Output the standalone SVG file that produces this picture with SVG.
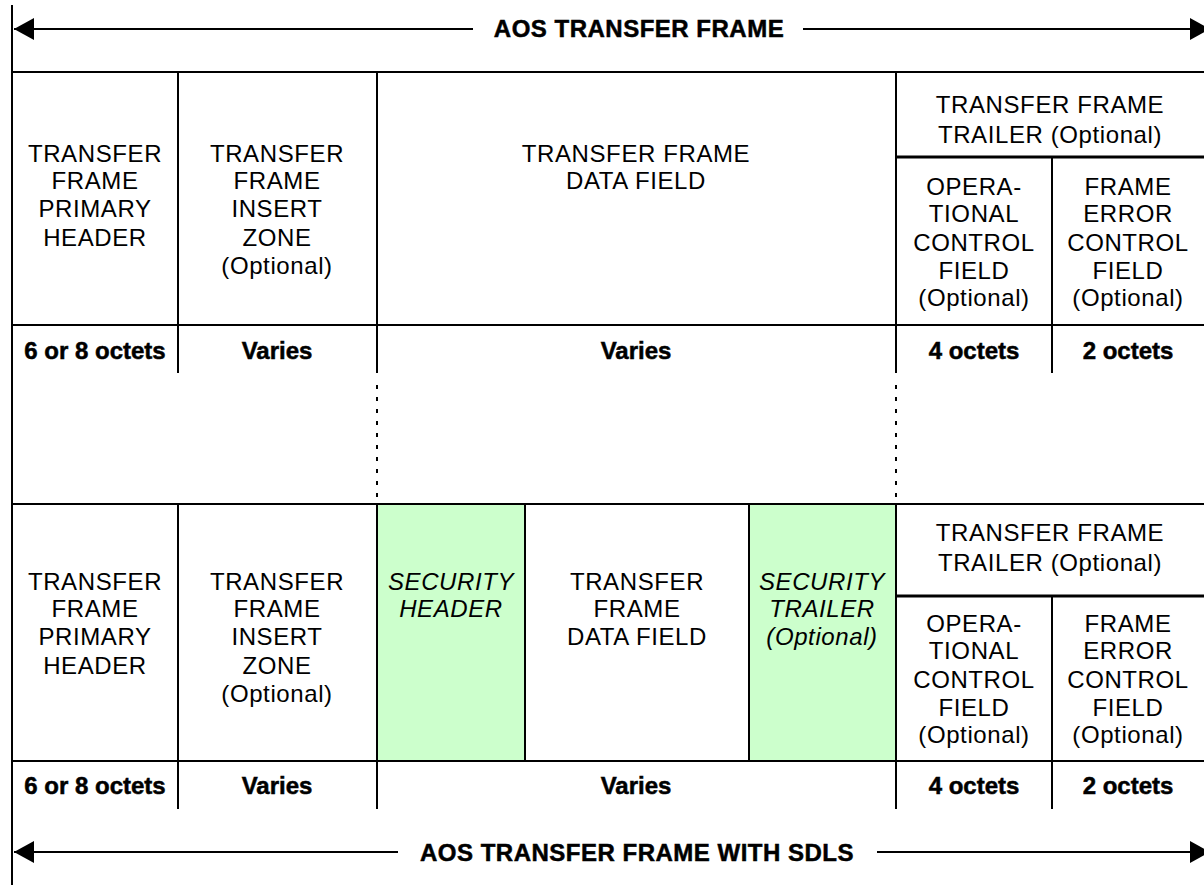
<svg xmlns="http://www.w3.org/2000/svg" width="1204" height="885" viewBox="0 0 1204 885">
<defs>
<style>
.ln{stroke:#000;stroke-width:2;fill:none}
.thk{stroke:#000;stroke-width:3;fill:none}
.dot{stroke:#000;stroke-width:2;stroke-dasharray:4 8;fill:none}
.t{font-family:"Liberation Sans",Arial,sans-serif;font-size:24px;letter-spacing:0.6px;text-anchor:middle;fill:#000}
.it{font-style:italic}
.b{font-weight:bold;letter-spacing:0;stroke:#000;stroke-width:0.5}
.ttl{letter-spacing:0.5px}
.sec{fill:#CCFFCC}
</style>
<marker id="ah" viewBox="0 0 20 22" refX="20" refY="11" markerWidth="20" markerHeight="22" markerUnits="userSpaceOnUse" orient="auto-start-reverse">
<path d="M0,0 L20,11 L0,22 z" fill="#000"/>
</marker>
</defs>
<rect width="1204" height="885" fill="#fff"/>

<g id="frame-lines">
<line class="ln" x1="12" y1="5" x2="12" y2="885"/>
<line class="ln" x1="12" y1="72" x2="1204" y2="72"/>
<line class="ln" x1="12" y1="325" x2="1204" y2="325"/>
<line class="ln" x1="178" y1="72" x2="178" y2="373"/>
<line class="ln" x1="377" y1="72" x2="377" y2="373"/>
<line class="ln" x1="896" y1="72" x2="896" y2="373"/>
<line class="thk" x1="896" y1="157" x2="1204" y2="157"/>
<line class="ln" x1="1052" y1="157" x2="1052" y2="373"/>
</g>

<g id="sdls-lines">
<rect class="sec" x="377" y="504" width="148" height="257"/>
<rect class="sec" x="749" y="504" width="147" height="257"/>
<line class="ln" x1="12" y1="504" x2="1204" y2="504"/>
<line class="ln" x1="12" y1="761" x2="1204" y2="761"/>
<line class="ln" x1="178" y1="504" x2="178" y2="809"/>
<line class="ln" x1="377" y1="504" x2="377" y2="809"/>
<line class="ln" x1="525" y1="504" x2="525" y2="761"/>
<line class="ln" x1="749" y1="504" x2="749" y2="761"/>
<line class="ln" x1="896" y1="504" x2="896" y2="809"/>
<line class="thk" x1="896" y1="596" x2="1204" y2="596"/>
<line class="ln" x1="1052" y1="596" x2="1052" y2="809"/>
</g>

<g id="connectors">
<line class="ln" x1="14" y1="29" x2="473" y2="29" marker-start="url(#ah)"/>
<line class="ln" x1="803" y1="29" x2="1210" y2="29" marker-end="url(#ah)"/>
<line class="ln" x1="14" y1="852" x2="398" y2="852" marker-start="url(#ah)"/>
<line class="ln" x1="877" y1="852" x2="1210" y2="852" marker-end="url(#ah)"/>
<line class="dot" x1="377" y1="385" x2="377" y2="498"/>
<line class="dot" x1="896" y1="385" x2="896" y2="498"/>
</g>

<g id="title-aos"><text class="t b ttl" x="639" y="37">AOS TRANSFER FRAME</text></g>
<g id="title-aos-sdls"><text class="t b ttl" x="637" y="861">AOS TRANSFER FRAME WITH SDLS</text></g>

<g id="a-primary-header">
<text class="t" x="95" y="162">TRANSFER</text>
<text class="t" x="95" y="189">FRAME</text>
<text class="t" x="95" y="217">PRIMARY</text>
<text class="t" x="95" y="246">HEADER</text>
</g>
<g id="a-insert-zone">
<text class="t" x="277" y="162">TRANSFER</text>
<text class="t" x="277" y="189">FRAME</text>
<text class="t" x="277" y="217">INSERT</text>
<text class="t" x="277" y="246">ZONE</text>
<text class="t" x="277" y="274">(Optional)</text>
</g>
<g id="a-data-field">
<text class="t" x="636" y="162">TRANSFER FRAME</text>
<text class="t" x="636" y="189">DATA FIELD</text>
</g>
<g id="a-trailer">
<text class="t" x="1050" y="113">TRANSFER FRAME</text>
<text class="t" x="1050" y="143">TRAILER  (Optional)</text>
</g>
<g id="a-ocf">
<text class="t" x="974" y="195">OPERA-</text>
<text class="t" x="974" y="222">TIONAL</text>
<text class="t" x="974" y="251">CONTROL</text>
<text class="t" x="974" y="279">FIELD</text>
<text class="t" x="974" y="306">(Optional)</text>
</g>
<g id="a-fecf">
<text class="t" x="1128" y="195">FRAME</text>
<text class="t" x="1128" y="222">ERROR</text>
<text class="t" x="1128" y="251">CONTROL</text>
<text class="t" x="1128" y="279">FIELD</text>
<text class="t" x="1128" y="306">(Optional)</text>
</g>
<g id="a-sizes">
<text class="t b" x="95" y="359">6 or 8 octets</text>
<text class="t b" x="277" y="359">Varies</text>
<text class="t b" x="636" y="359">Varies</text>
<text class="t b" x="974" y="359">4 octets</text>
<text class="t b" x="1128" y="359">2 octets</text>
</g>

<g id="b-primary-header">
<text class="t" x="95" y="590">TRANSFER</text>
<text class="t" x="95" y="617">FRAME</text>
<text class="t" x="95" y="645">PRIMARY</text>
<text class="t" x="95" y="674">HEADER</text>
</g>
<g id="b-insert-zone">
<text class="t" x="277" y="590">TRANSFER</text>
<text class="t" x="277" y="617">FRAME</text>
<text class="t" x="277" y="645">INSERT</text>
<text class="t" x="277" y="674">ZONE</text>
<text class="t" x="277" y="702">(Optional)</text>
</g>
<g id="b-security-header">
<text class="t it" x="451" y="590">SECURITY</text>
<text class="t it" x="451" y="617">HEADER</text>
</g>
<g id="b-data-field">
<text class="t" x="637" y="590">TRANSFER</text>
<text class="t" x="637" y="617">FRAME</text>
<text class="t" x="637" y="645">DATA FIELD</text>
</g>
<g id="b-security-trailer">
<text class="t it" x="822" y="590">SECURITY</text>
<text class="t it" x="822" y="617">TRAILER</text>
<text class="t it" x="822" y="645">(Optional)</text>
</g>
<g id="b-trailer">
<text class="t" x="1050" y="541">TRANSFER FRAME</text>
<text class="t" x="1050" y="571">TRAILER  (Optional)</text>
</g>
<g id="b-ocf">
<text class="t" x="974" y="632">OPERA-</text>
<text class="t" x="974" y="659">TIONAL</text>
<text class="t" x="974" y="688">CONTROL</text>
<text class="t" x="974" y="716">FIELD</text>
<text class="t" x="974" y="743">(Optional)</text>
</g>
<g id="b-fecf">
<text class="t" x="1128" y="632">FRAME</text>
<text class="t" x="1128" y="659">ERROR</text>
<text class="t" x="1128" y="688">CONTROL</text>
<text class="t" x="1128" y="716">FIELD</text>
<text class="t" x="1128" y="743">(Optional)</text>
</g>
<g id="b-sizes">
<text class="t b" x="95" y="794">6 or 8 octets</text>
<text class="t b" x="277" y="794">Varies</text>
<text class="t b" x="636" y="794">Varies</text>
<text class="t b" x="974" y="794">4 octets</text>
<text class="t b" x="1128" y="794">2 octets</text>
</g>
</svg>
